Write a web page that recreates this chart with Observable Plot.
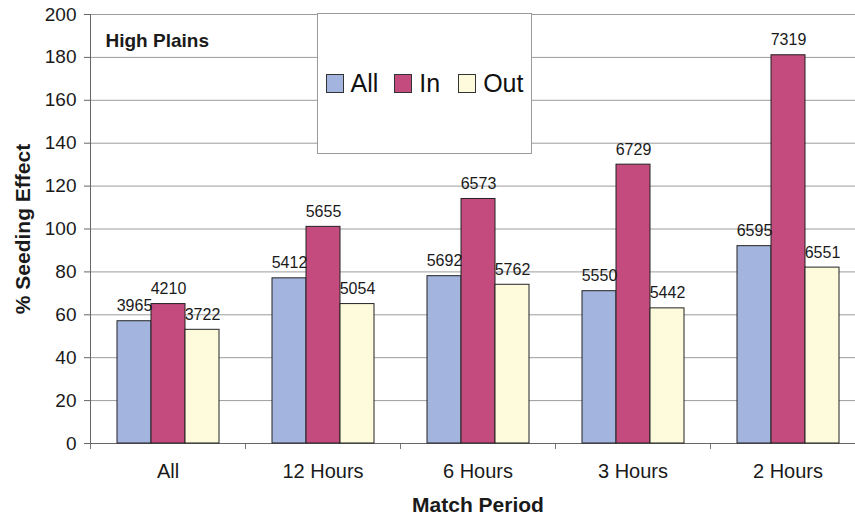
<!DOCTYPE html>
<html>
<head>
<meta charset="utf-8">
<script src="https://cdn.jsdelivr.net/npm/d3@7"></script>
<script src="https://cdn.jsdelivr.net/npm/@observablehq/plot@0.6"></script>
<style>
  html, body { margin: 0; padding: 0; background: #fff; overflow: hidden; }
  #wrap { position: relative; width: 855px; height: 516px; overflow: hidden; }
  #legend { position: absolute; box-sizing: border-box; background: #fff; border: 1px solid #9a9a9a;
            display: flex; align-items: center; justify-content: center;
            font-family: "Liberation Sans", Arial, sans-serif; font-size: 25px; color: #111; }
  .item { display: flex; align-items: center; }
  .sw { width: 16px; height: 17px; border: 1px solid #333; margin-right: 7px; }
</style>
</head>
<body>
<div id="wrap"></div>
<script>
const categories = ["All", "12 Hours", "6 Hours", "3 Hours", "2 Hours"];
const seriesNames = ["All", "In", "Out"];
const allValues = [57, 77, 78, 71, 92];
const inValues  = [65, 101, 114, 130, 181];
const outValues = [53, 65, 74, 63, 82];
const allCounts = [3965, 5412, 5692, 5550, 6595];
const inCounts  = [4210, 5655, 6573, 6729, 7319];
const outCounts = [3722, 5054, 5762, 5442, 6551];
const yTicks = [0, 20, 40, 60, 80, 100, 120, 140, 160, 180, 200];
const colors = ["#a3b4de", "#c34b7d", "#fdfbdc"];
const panelLabel = "High Plains";
const xTitle = "Match Period";
const yTitle = "% Seeding Effect";

const rows = [];
categories.forEach((c, i) => {
  rows.push({category: c, series: seriesNames[0], value: allValues[i], count: allCounts[i]});
  rows.push({category: c, series: seriesNames[1], value: inValues[i], count: inCounts[i]});
  rows.push({category: c, series: seriesNames[2], value: outValues[i], count: outCounts[i]});
});

const font = "'Liberation Sans', Arial, Helvetica, sans-serif";

const chart = Plot.plot({
  width: 855,
  height: 516,
  marginTop: 14,
  marginBottom: 73,
  marginLeft: 88,
  marginRight: -11,
  style: {fontFamily: font, background: "white", color: "#1a1a1a", overflow: "visible"},
  fx: {domain: categories, padding: 0, label: null},
  x: {domain: seriesNames, paddingInner: 0, paddingOuter: 0.75, axis: null},
  y: {domain: [0, 200]},
  color: {domain: seriesNames, range: colors},
  marks: [
    Plot.gridY(yTicks, {stroke: "#9c9c9c", strokeOpacity: 1}),
    Plot.frame({anchor: "left", insetTop: 429, insetBottom: -5, stroke: "#777"}),
    Plot.frame({anchor: "left", fx: [categories[0]], stroke: "#666"}),
    Plot.ruleY([0], {stroke: "#666"}),
    Plot.barY(rows, {fx: "category", x: "series", y: "value", fill: "series", stroke: "#222", strokeWidth: 1}),
    Plot.text(rows, {fx: "category", x: "series", y: "value", text: d => String(d.count),
                     dy: -15, fontSize: 16, fill: "#1a1a1a"}),
    Plot.axisY(yTicks, {tickSize: 6, tickPadding: 8, fontSize: 19, label: null, stroke: "#666"}),
    Plot.axisFx({anchor: "bottom", tickSize: 0, tickPadding: 20, fontSize: 20, label: null}),
    Plot.text([panelLabel], {fx: [categories[0]], text: d => d, frameAnchor: "top-left", dx: 15, dy: 19,
                             lineAnchor: "top", textAnchor: "start", fontSize: 19, fontWeight: "bold"}),
    Plot.text([xTitle], {fx: [categories[2]], text: d => d, frameAnchor: "bottom", dy: 62,
                         lineAnchor: "middle", textAnchor: "middle", fontSize: 21, fontWeight: "bold"}),
    Plot.text([yTitle], {fx: [categories[0]], text: d => d, frameAnchor: "left", dx: -67, rotate: -90,
                         lineAnchor: "middle", textAnchor: "middle", fontSize: 21, fontWeight: "bold"})
  ]
});

const wrap = document.getElementById("wrap");
wrap.appendChild(chart);

const legend = d3.select(wrap).append("div").attr("id", "legend")
  .style("left", "317px").style("top", "13px").style("width", "215px").style("height", "141px");
const gaps = [0, 16, 18];
seriesNames.forEach((s, i) => {
  const it = legend.append("div").attr("class", "item").style("margin-left", gaps[i] + "px");
  it.append("div").attr("class", "sw").style("background", colors[i]);
  it.append("span").text(s);
});
</script>
</body>
</html>
